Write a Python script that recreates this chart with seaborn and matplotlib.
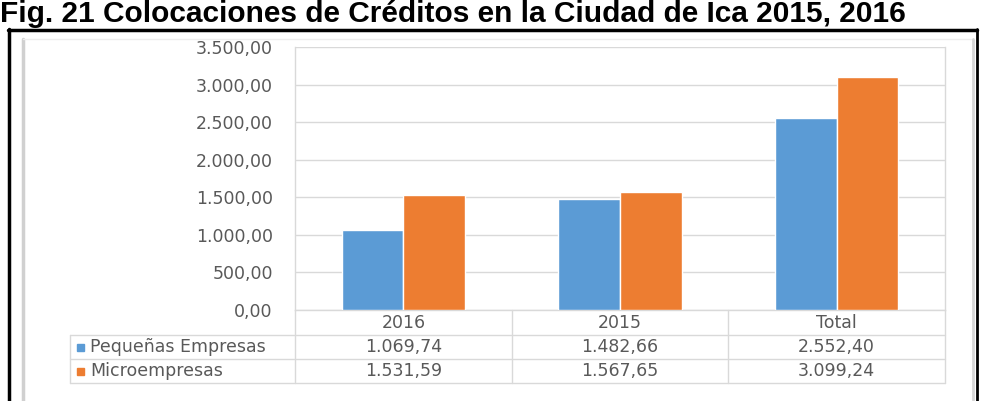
import matplotlib
matplotlib.use("Agg")
import matplotlib.pyplot as plt
import seaborn as sns
import pandas as pd
from matplotlib.lines import Line2D
from matplotlib.patches import Rectangle

# ---- data ----
categories = ["2016", "2015", "Total"]
series_names = ["Pequeñas Empresas", "Microempresas"]
pequenas = [1069.74, 1482.66, 2552.40]
micro = [1531.59, 1567.65, 3099.24]
y_ticks = [0, 500, 1000, 1500, 2000, 2500, 3000, 3500]
title = "Fig. 21 Colocaciones de Créditos en la Ciudad de Ica 2015, 2016"

colors = ["#5B9BD5", "#ED7D31"]
grey_txt = "#595959"
grid_c = "#D9D9D9"
FS = 12.5


def fmt_es(v):
    s = f"{v:,.2f}"
    return s.replace(",", "#").replace(".", ",").replace("#", ".")


df = pd.DataFrame({
    "cat": categories * 2,
    "val": pequenas + micro,
    "serie": [series_names[0]] * 3 + [series_names[1]] * 3,
})

sns.set_theme(style="white")
plt.rcParams["font.family"] = ["DejaVu Sans"]

W, H = 992, 401
fig = plt.figure(figsize=(W / 100, H / 100), dpi=100)
fig.patch.set_facecolor("white")

# plot area in pixel coords
px_l, px_r, px_t, px_b = 295, 945, 47, 310
ax = fig.add_axes([px_l / W, 1 - px_b / H, (px_r - px_l) / W, (px_b - px_t) / H])
sns.barplot(data=df, x="cat", y="val", hue="serie", order=categories,
            hue_order=series_names, palette=colors, width=0.57,
            saturation=1, legend=False, ax=ax, zorder=3)
ax.set_ylim(0, 3500)
ax.set_xlim(-0.5, 2.5)
ax.set_yticks(y_ticks)
ax.set_yticklabels([fmt_es(t) for t in y_ticks], color=grey_txt, fontsize=FS)
ax.set_xticks([])
ax.set_xlabel("")
ax.set_ylabel("")
ax.tick_params(axis="y", length=0, pad=16)
ax.grid(axis="y", color=grid_c, linewidth=1, zorder=0)
for s in ["left", "right", "bottom"]:
    ax.spines[s].set_color(grid_c)
    ax.spines[s].set_linewidth(1)
ax.spines["top"].set_visible(False)

# overlay in pixel coordinates
ov = fig.add_axes([0, 0, 1, 1], zorder=5)
ov.set_xlim(0, W)
ov.set_ylim(H, 0)
ov.axis("off")
ov.patch.set_alpha(0)

# title
ov.text(0, 22, title, fontsize=21.5, fontweight="bold", family="Liberation Sans",
        color="black", ha="left", va="baseline")

# black outer border
ov.add_line(Line2D([9, 9], [29, H + 5], color="black", lw=2.5))
ov.add_line(Line2D([8, 977], [30, 30], color="black", lw=2.5))
ov.add_line(Line2D([976.5, 976.5], [29, H + 5], color="black", lw=2.0))

# grey chart frame
ov.add_line(Line2D([23, 23], [39, H + 5], color="#D0D0D0", lw=2.5))
ov.add_line(Line2D([23, 973], [39, 39], color="#EDEDED", lw=1.0))
ov.add_line(Line2D([973, 973], [39, H + 5], color="#D6D6D6", lw=2.0))

# data table
col_edges = [px_l, px_l + (px_r - px_l) / 3, px_l + 2 * (px_r - px_l) / 3, px_r]
row_edges = [310, 335, 359, 383]
legend_left = 70
for y in row_edges[1:]:
    ov.add_line(Line2D([legend_left, px_r], [y, y], color=grid_c, lw=1))
ov.add_line(Line2D([legend_left, legend_left], [row_edges[1], row_edges[3]],
                   color=grid_c, lw=1))
for x in col_edges:
    ov.add_line(Line2D([x, x], [row_edges[0], row_edges[3]], color=grid_c, lw=1))

for i, c in enumerate(categories):
    cx = (col_edges[i] + col_edges[i + 1]) / 2
    ov.text(cx, (row_edges[0] + row_edges[1]) / 2 + 1, c, ha="center", va="center",
            color=grey_txt, fontsize=FS)

for r, (name, vals, col) in enumerate(zip(series_names, [pequenas, micro], colors)):
    cy = (row_edges[r + 1] + row_edges[r + 2]) / 2
    ov.add_patch(Rectangle((77, cy - 3.5), 7, 7, color=col))
    ov.text(90, cy, name, ha="left", va="center", color=grey_txt, fontsize=FS)
    for i, v in enumerate(vals):
        cx = (col_edges[i] + col_edges[i + 1]) / 2
        ov.text(cx, cy, fmt_es(v), ha="center", va="center", color=grey_txt,
                fontsize=FS)

fig.savefig("out.png", dpi=100, facecolor="white")
